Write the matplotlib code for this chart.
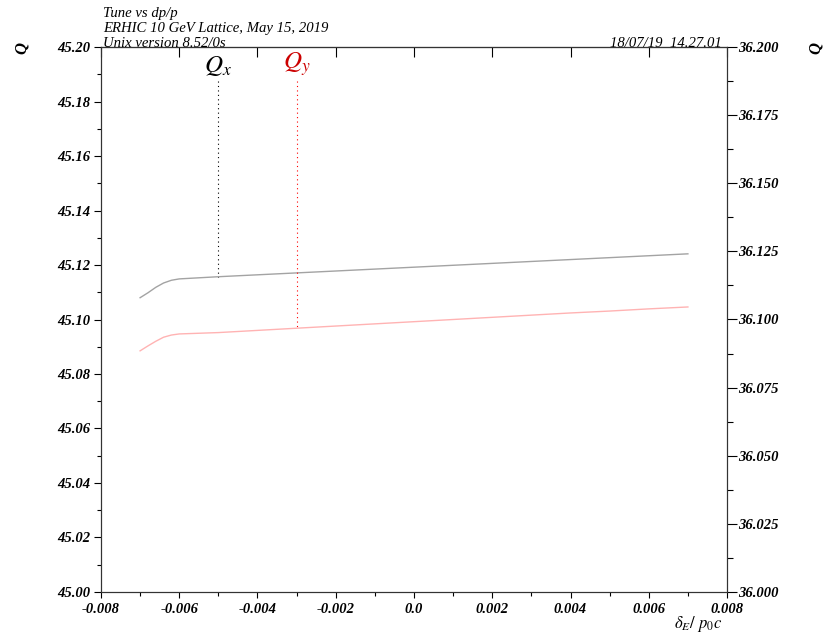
import matplotlib
matplotlib.use("Agg")
from matplotlib import pyplot as plt
from matplotlib.ticker import MultipleLocator, FormatStrFormatter, FixedLocator, NullFormatter

plt.rcParams['mathtext.fontset'] = 'stix'

# relative momentum deviation dp/p
dpp = [-0.007, -0.0068, -0.0066, -0.0064, -0.0062, -0.006, -0.005, -0.004,
       -0.003, -0.002, -0.001, 0.0, 0.001, 0.002, 0.003, 0.004, 0.005,
       0.006, 0.007]

# horizontal tune (left axis)
qx = [45.1080, 45.1098, 45.1118, 45.1134, 45.1144, 45.1149, 45.1157, 45.1164,
      45.1171, 45.1178, 45.1185, 45.1192, 45.1199, 45.1206, 45.1213, 45.1220,
      45.1227, 45.1234, 45.1241]

# vertical tune (right axis)
qy = [36.0885, 36.0903, 36.0920, 36.0935, 36.0943, 36.0947, 36.0952, 36.0960,
      36.0968, 36.0976, 36.0984, 36.0992, 36.1000, 36.1008, 36.1016, 36.1024,
      36.1031, 36.1039, 36.1046]

x_ticks = [-0.008, -0.006, -0.004, -0.002, 0.0, 0.002, 0.004, 0.006, 0.008]
x_labels = ['-0.008', '-0.006', '-0.004', '-0.002', '0.0', '0.002', '0.004', '0.006', '0.008']

qx_mark = -0.005
qy_mark = -0.003

tick_font = {'family': 'Liberation Serif', 'style': 'italic', 'weight': 'bold', 'size': 10.5}
head_font = {'family': 'Liberation Serif', 'style': 'italic', 'size': 10.6}

fig = plt.figure(figsize=(8.29, 6.39), dpi=100)
ax = fig.add_axes([0.1218, 0.0736, 0.7552, 0.8528])
ax2 = ax.twinx()

ax.plot(dpp, qx, color='#a3a3a3', lw=1.0)
ax2.plot(dpp, qy, color='#ffb3b3', lw=1.0)

ax.set_xlim(-0.008, 0.008)
ax.set_ylim(45.0, 45.2)
ax2.set_ylim(36.0, 36.2)

ax.xaxis.set_major_locator(FixedLocator(x_ticks))
ax.xaxis.set_minor_locator(MultipleLocator(0.001))
ax.yaxis.set_major_locator(MultipleLocator(0.02))
ax.yaxis.set_minor_locator(MultipleLocator(0.01))
ax2.yaxis.set_major_locator(MultipleLocator(0.025))
ax2.yaxis.set_minor_locator(MultipleLocator(0.0125))

ax.set_xticklabels(x_labels)
ax.yaxis.set_major_formatter(FormatStrFormatter('%.2f'))
ax2.yaxis.set_major_formatter(FormatStrFormatter('%.3f'))

ax.tick_params(axis='x', which='major', direction='out', length=4, width=0.8, pad=4, top=False)
ax.tick_params(axis='x', which='minor', direction='out', length=3, width=0.8, top=False)
ax.tick_params(axis='y', which='major', direction='out', length=5, width=0.8, pad=3)
ax.tick_params(axis='y', which='minor', direction='out', length=3, width=0.8)
ax2.tick_params(axis='y', which='major', direction='out', length=7, width=0.8, pad=1)
ax2.tick_params(axis='y', which='minor', direction='out', length=4, width=0.8)

# top frame carries only inward major ticks
top = ax.secondary_xaxis('top')
top.xaxis.set_major_locator(FixedLocator(x_ticks))
top.xaxis.set_major_formatter(NullFormatter())
top.tick_params(direction='in', length=7, width=0.8)

for lab in ax.get_xticklabels() + ax.get_yticklabels() + ax2.get_yticklabels():
    lab.set_fontproperties(tick_font)

for a in (ax, ax2, top):
    for s in a.spines.values():
        s.set_linewidth(0.8)
        s.set_color('#333333')

# tune markers with dotted guide lines
ax.plot([qx_mark, qx_mark], [45.1875, qx[6]], color='black', lw=0.8, ls=(0, (1, 3)))
ax2.plot([qy_mark, qy_mark], [36.1875, qy[8]], color='red', lw=0.8, ls=(0, (1, 3)))
ax.text(qx_mark, 45.1885, r'$Q_x$', color='black', ha='center', va='bottom', fontsize=18)
ax2.text(qy_mark, 36.1885, r'$Q_y$', color='#cc0000', ha='center', va='bottom', fontsize=18)

# headers
fig.text(0.1242, 0.973, 'Tune vs dp/p', fontdict=head_font, va='baseline')
fig.text(0.1242, 0.950, 'ERHIC 10 GeV Lattice, May 15, 2019', fontdict=head_font, va='baseline')
fig.text(0.1242, 0.927, 'Unix version 8.52/0s', fontdict=head_font, va='baseline')
fig.text(0.871, 0.927, '18/07/19  14.27.01', fontdict=head_font, va='baseline', ha='right')

q_font = dict(tick_font, size=12)
fig.text(0.027, 0.925, 'Q', fontdict=q_font, rotation=90, ha='center', va='center')
fig.text(0.984, 0.925, 'Q', fontdict=q_font, rotation=90, ha='center', va='center')
fig.text(0.871, 0.017, r'$\delta_E/\ p_0c$', ha='right', va='baseline', fontsize=12)

fig.savefig('out.png', dpi=100)
